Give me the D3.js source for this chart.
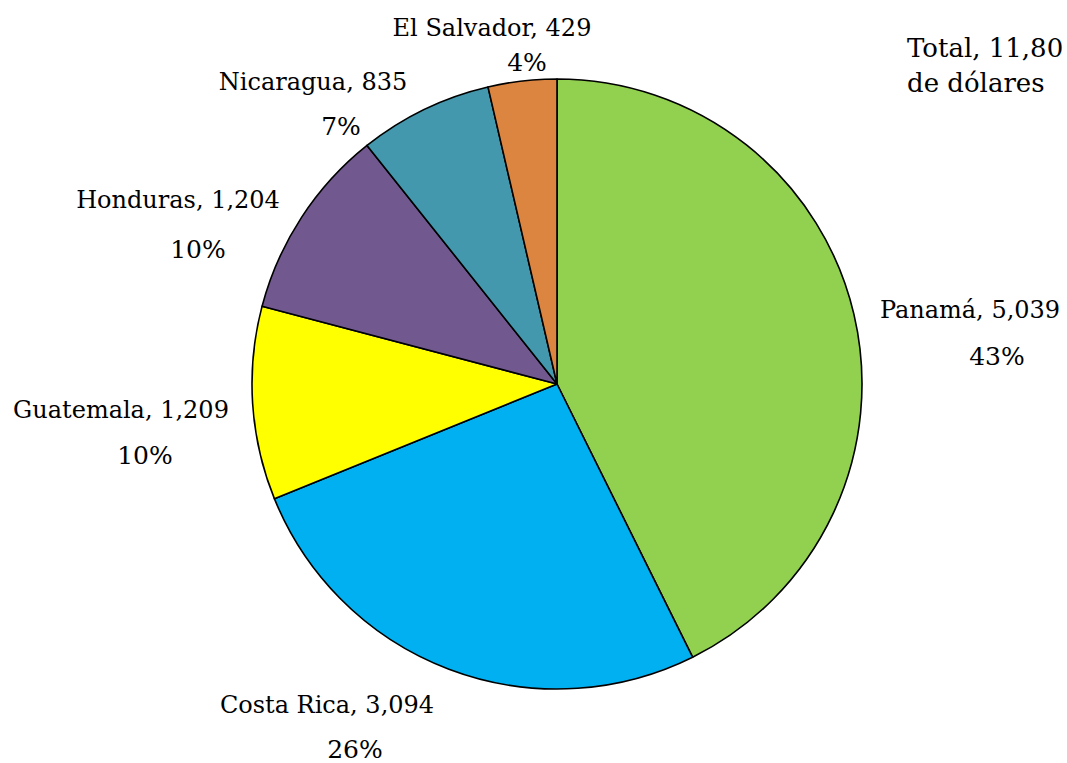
<!DOCTYPE html>
<html>
<head>
<meta charset="utf-8">
<script src="https://cdn.jsdelivr.net/npm/d3@7"></script>
<style>
  body { margin: 0; background: #fff; }
  svg text { font-family: "DejaVu Serif", serif; fill: #000; }
</style>
</head>
<body>
<div id="chart"></div>
<script>
// data
const countries = ['Panamá', 'Costa Rica', 'Guatemala', 'Honduras', 'Nicaragua', 'El Salvador'];
const amounts = [5039, 3094, 1209, 1204, 835, 429];
const percentLabels = ['43%', '26%', '10%', '10%', '7%', '4%'];
const amountLabels = ['5,039', '3,094', '1,209', '1,204', '835', '429'];
const colors = ['#92d050', '#00b0f0', '#ffff00', '#71598f', '#4398ae', '#dc8540'];
const totalLines = ['Total, 11,80', 'de dólares'];

// label placement (centre x, baseline of name line, baseline of percent line)
const labelPos = [
    {x: 970, y1: 318, x2: 997, y2: 365},
    {x: 327, y1: 713, x2: 355, y2: 758},
    {x: 121, y1: 418, x2: 145, y2: 464},
    {x: 178, y1: 208, x2: 198, y2: 258},
    {x: 313, y1: 90,  x2: 341, y2: 135},
    {x: 492, y1: 36,  x2: 527, y2: 71}
];

const width = 1067, height = 763;
const cx = 557, cy = 384, radius = 305;

var svg = d3.select('#chart').append('svg')
        .attr('width', width)
        .attr('height', height);

var color = d3.scaleOrdinal()
        .domain(countries)
        .range(colors);

var pie = d3.pie()
        .sort(null)
        .value(function(d){ return d.value });

var arc = d3.arc()
        .innerRadius(0)
        .outerRadius(radius);

const data = countries.map(function(c, i){
    return {name: c, value: amounts[i], amount: amountLabels[i], pct: percentLabels[i], pos: labelPos[i]}
});

var g = svg.append('g')
        .attr('transform', 'translate(' + cx + ',' + cy + ')');

g.selectAll('path')
        .data(pie(data))
    .enter().append('path')
        .attr('d', arc)
        .style('fill', function(d){ return color(d.data.name) })
        .style('stroke', '#000')
        .style('stroke-width', 1.6)
        .style('stroke-linejoin', 'round');

//labels
var labels = svg.selectAll('.label')
        .data(data)
    .enter().append('g')
        .attr('class', 'label');

labels.append('text')
        .attr('x', function(d){ return d.pos.x })
        .attr('y', function(d){ return d.pos.y1 })
        .attr('text-anchor', 'middle')
        .style('font-size', '24px')
        .text(function(d){ return d.name + ', ' + d.amount });

labels.append('text')
        .attr('x', function(d){ return d.pos.x2 })
        .attr('y', function(d){ return d.pos.y2 })
        .attr('text-anchor', 'middle')
        .style('font-size', '25px')
        .text(function(d){ return d.pct });

svg.selectAll('.total')
        .data(totalLines)
    .enter().append('text')
        .attr('class', 'total')
        .attr('x', 907)
        .attr('y', function(d, i){ return 57 + i * 35 })
        .style('font-size', '26px')
        .text(function(d){ return d });
</script>
</body>
</html>
